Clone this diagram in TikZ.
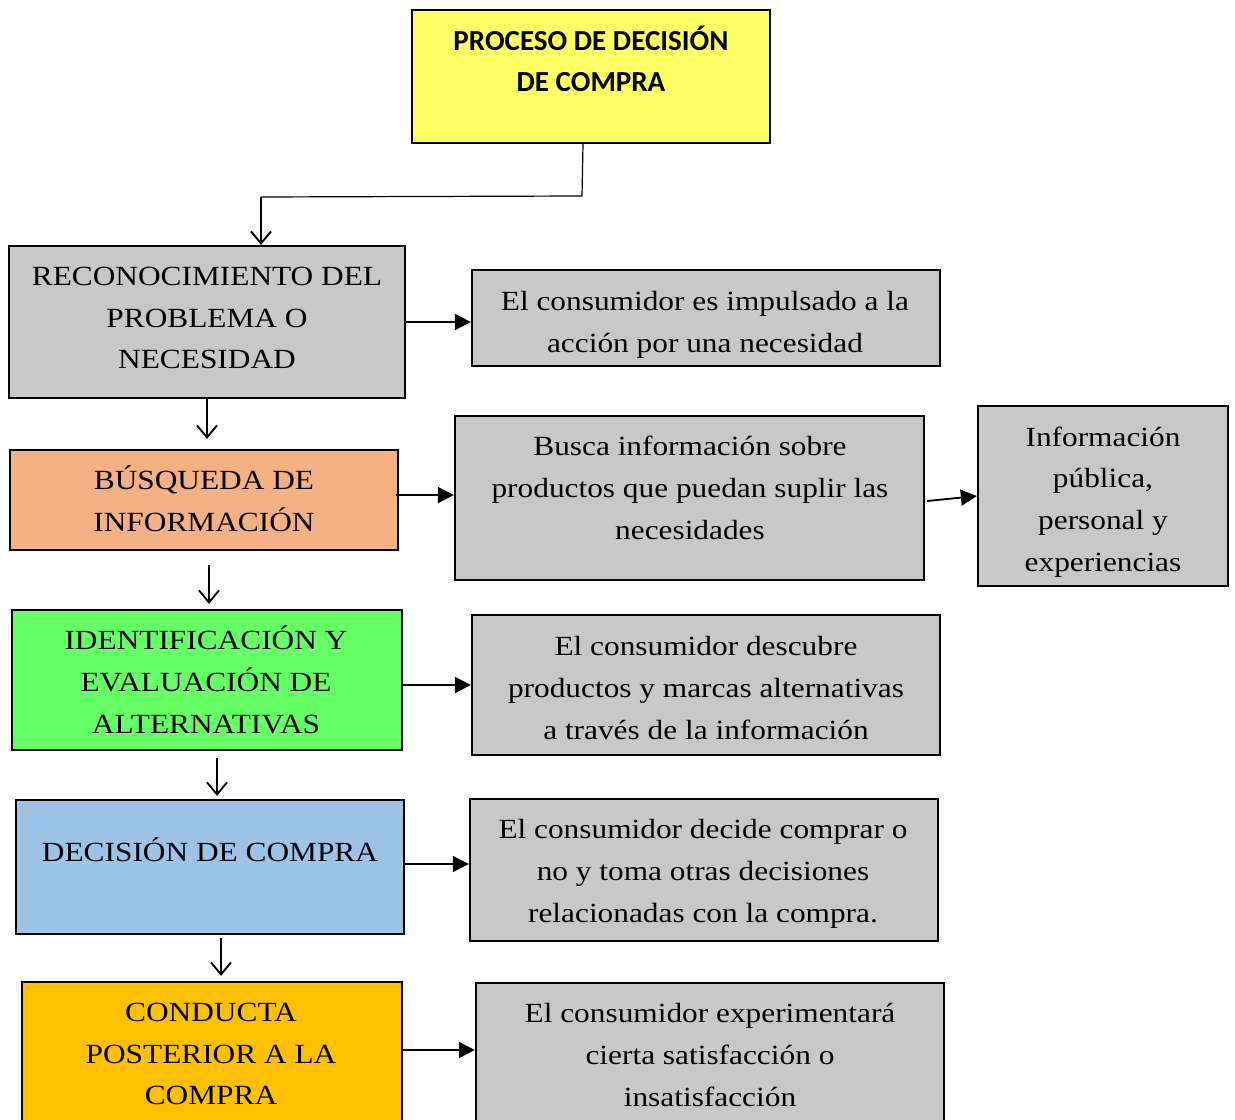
\documentclass[tikz,border=0pt]{standalone}
\usepackage{fontspec}
\setmainfont{Liberation Serif}[FakeStretch=1.13]
\newfontfamily\titlefont{Carlito}
\usetikzlibrary{arrows.meta,fit,calc}
\definecolor{boxgray}{HTML}{C8C8C8}
\definecolor{titleyellow}{HTML}{FFFF66}
\definecolor{stepsalmon}{HTML}{F4B183}
\definecolor{stepgreen}{HTML}{66FF66}
\definecolor{stepblue}{HTML}{9DC3E6}
\definecolor{stepgold}{HTML}{FFC000}
\begin{document}
\begin{tikzpicture}[x=0.75pt,y=-0.75pt,
  box/.style={draw=black, line width=1.7pt, inner sep=0pt, rectangle},
  txt/.style={align=center, inner sep=0pt, font=\fontsize{20.8}{31.3}\selectfont},
  ttl/.style={align=center, inner sep=0pt, font=\titlefont\bfseries\fontsize{21.8}{30.8}\selectfont},
  harrow/.style={line width=1.4pt, -{Triangle[length=12pt,width=12pt]}},
  varrow/.style={line width=1.4pt, -{Straight Barb[length=9pt,width=15pt,line width=1.4pt]}},
  thin/.style={line width=0.9pt}]
\useasboundingbox (0,0) rectangle (1235,1120);
\clip (0,0) rectangle (1235,1120);

% title box
\node[box, fill=titleyellow, fit={(412,10) (770,143)}] (tb) {};
\node[ttl] (tt) at (591,59) {PROCESO DE DECISIÓN\\DE COMPRA};

% left column: the five steps
\node[box, fill=boxgray,    fit={(9,246) (405,398)}]  (b1) {};
\node[box, fill=stepsalmon, fit={(10,450) (398,550)}] (b2) {};
\node[box, fill=stepgreen,  fit={(12,610) (402,750)}] (b3) {};
\node[box, fill=stepblue,   fit={(16,800) (404,934)}] (b4) {};
\node[box, fill=stepgold,   fit={(22,982) (402,1140)}] (b5) {};

\node[txt] (t1) at (207,318) {RECONOCIMIENTO DEL\\PROBLEMA O\\NECESIDAD};
\node[txt] (t2) at (204,499) {BÚSQUEDA DE\\INFORMACIÓN};
\node[txt] (t3) at (206,680) {IDENTIFICACIÓN Y\\EVALUACIÓN DE\\ALTERNATIVAS};
\node[txt] (t4) at (210,850) {DECISIÓN DE COMPRA};
\node[txt] (t5) at (211,1054) {CONDUCTA\\POSTERIOR A LA\\COMPRA};

% right column: descriptions
\node[box, fill=boxgray, fit={(472,270) (940,366)}]  (r1) {};
\node[box, fill=boxgray, fit={(455,416) (924,580)}]  (r2) {};
\node[box, fill=boxgray, fit={(978,406) (1228,586)}] (r2b) {};
\node[box, fill=boxgray, fit={(472,615) (940,755)}]  (r3) {};
\node[box, fill=boxgray, fit={(470,799) (938,941)}]  (r4) {};
\node[box, fill=boxgray, fit={(476,983) (944,1140)}] (r5) {};

\node[txt] (s1) at (705,325) {El consumidor es impulsado a la\\acción por una necesidad};
\node[txt] (s2) at (690,488) {Busca información sobre\\productos que puedan suplir las\\necesidades};
\node[txt] (s2b) at (1103,502) {Información\\pública,\\personal y\\experiencias};
\node[txt] (s3) at (706,688) {El consumidor descubre\\productos y marcas alternativas\\a través de la información};
\node[txt] (s4) at (703,874) {El consumidor decide comprar o\\no y toma otras decisiones\\relacionadas con la compra.};
\node[txt] (s5) at (710,1055) {El consumidor experimentará\\cierta satisfacción o\\insatisfacción};

% title to first step
\coordinate (elbow) at (582,196);
\coordinate (drop) at (261,197);
\draw[thin] (tb.south -| 583,0) -- (elbow) -- (drop);
\draw[varrow] (drop) -- (drop |- b1.north) ;

% vertical flow between steps
\coordinate (v2) at (209,565);
\coordinate (v3) at (217,758);
\coordinate (v4) at (221,938);
\draw[varrow] (b1.south) -- ($(b1.south |- b2.north)+(0,-10)$);
\draw[varrow] (v2) -- ($(v2 |- b3.north)+(0,-5)$);
\draw[varrow] (v3) -- ($(v3 |- b4.north)+(0,-3)$);
\draw[varrow] (v4) -- ($(v4 |- b5.north)+(0,-5)$);

% horizontal links to descriptions
\coordinate (h1) at (0,322);
\coordinate (h2) at (0,495);
\coordinate (h3) at (0,685);
\coordinate (h4) at (0,864);
\coordinate (h5) at (0,1050);
\draw[harrow] (h1 -| b1.east) -- (h1 -| r1.west);
\draw[harrow] ($(h2 -| b2.east)+(-3,0)$) -- (h2 -| r2.west);
\draw[harrow] ($(r2.east)+(2,3)$) -- (r2b.west);
\draw[harrow] (h3 -| b3.east) -- (h3 -| r3.west);
\draw[harrow] (h4 -| b4.east) -- (h4 -| r4.west);
\draw[harrow] (h5 -| b5.east) -- (h5 -| r5.west);
\end{tikzpicture}
\end{document}
